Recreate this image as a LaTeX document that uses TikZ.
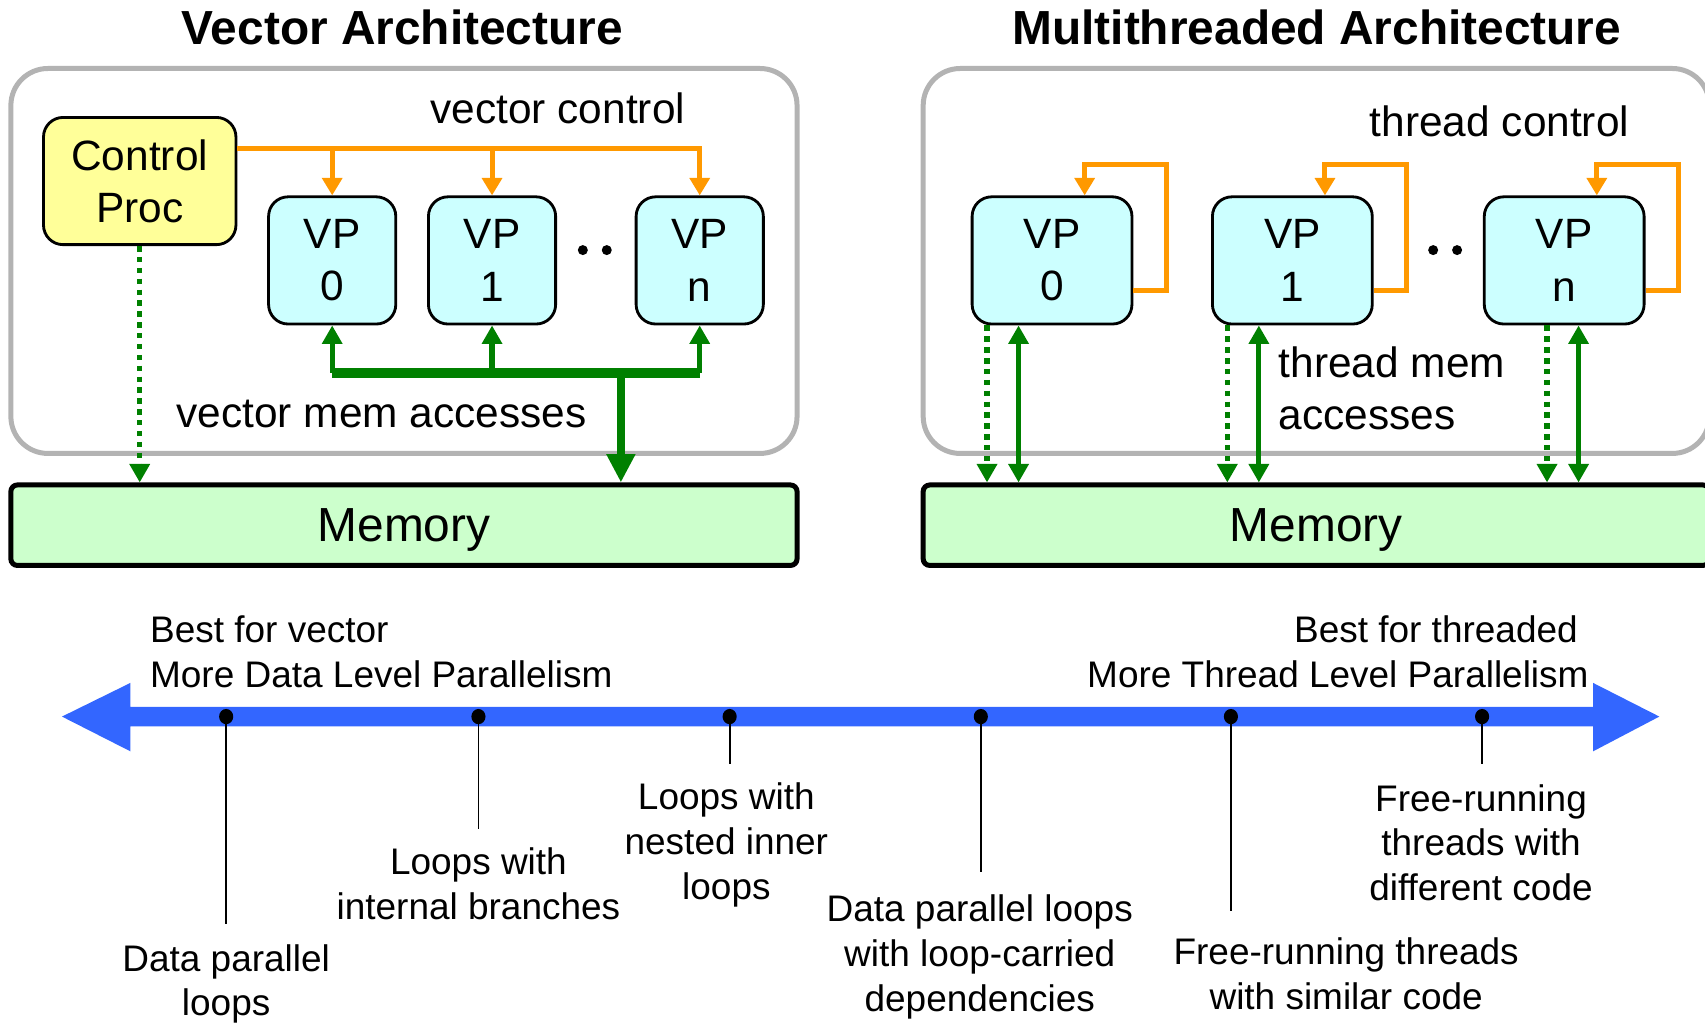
\documentclass[tikz,border=0pt]{standalone}
\usepackage{fontspec}
\setmainfont{Liberation Sans}
\usetikzlibrary{arrows.meta}
\definecolor{ctrlorange}{HTML}{FF9900}
\definecolor{memgreen}{HTML}{008000}
\definecolor{procyellow}{HTML}{FFFF99}
\definecolor{vpcyan}{HTML}{CCFFFF}
\definecolor{memfill}{HTML}{CCFFCC}
\definecolor{framegray}{HTML}{B3B3B3}
\definecolor{axisblue}{HTML}{3366FF}
\tikzset{
  boxfont/.style={font=\fontsize{19.5}{24}\selectfont},
  labelfont/.style={font=\fontsize{17}{20.5}\selectfont},
  titlefont/.style={font=\fontsize{22}{26}\selectfont\bfseries},
  groupbox/.style={draw=framegray, line width=2.3pt, rounded corners=17pt,
    minimum width=361.5pt, minimum height=177pt, inner sep=0pt},
  procbox/.style={draw=black, line width=1.3pt, fill=procyellow, rounded corners=9pt,
    minimum width=88.5pt, minimum height=58.5pt, inner sep=0pt, align=center, boxfont},
  vpbox/.style={draw=black, line width=1.3pt, fill=vpcyan, rounded corners=9pt,
    minimum width=58.5pt, minimum height=58.5pt, inner sep=0pt, align=center, boxfont},
  widevp/.style={vpbox, minimum width=73.5pt},
  membox/.style={draw=black, line width=2.3pt, fill=memfill, rounded corners=3pt,
    minimum width=361.5pt, minimum height=37pt, inner sep=0pt, text depth=0pt,
    font=\fontsize{22}{26}\selectfont},
  ctrlline/.style={draw=ctrlorange, line width=2.3pt,
    -{Triangle[width=9pt,length=8pt]}},
  ctrlloop/.style={ctrlline, line join=miter},
  memline/.style={draw=memgreen, line width=2.4pt,
    -{Triangle[width=9pt,length=8.5pt]}},
  memboth/.style={draw=memgreen, line width=2.4pt,
    {Triangle[width=9pt,length=8.5pt]}-{Triangle[width=9pt,length=8.5pt]}},
  memdot/.style={draw=memgreen, line width=2.5pt, dash pattern=on 2.5pt off 2.5pt,
    -{Triangle[width=9pt,length=8.5pt]}},
  membus/.style={draw=memgreen, line width=5pt},
  memtrunk/.style={draw=memgreen, line width=4pt,
    -{Triangle[width=12.5pt,length=13pt]}},
  tickdot/.style={ellipse, fill=black, inner sep=0pt, minimum width=6.5pt, minimum height=7pt},
  tickline/.style={draw=black, line width=0.8pt},
  dotmark/.style={circle, fill=black, inner sep=0pt, minimum size=4.6pt},
}
\usetikzlibrary{shapes.geometric}
\begin{document}
\begin{tikzpicture}[x=0.5pt,y=-0.5pt]
\useasboundingbox (0,0) rectangle (1568,940);

% ---------- titles ----------
\node[titlefont] (ttlV) at (370,25) {Vector Architecture};
\node[titlefont] (ttlM) at (1211,25) {Multithreaded Architecture};

% ---------- vector architecture ----------
\node[groupbox] (grpV) at (371.5,240) {};
\node[membox] (memV) at (371.5,483) {Memory};
\node[procbox] (cp) at (128.5,166.5) {Control\\Proc};
\node[vpbox] (vp0) at (305.5,239.5) {VP\\0};
\node[vpbox] (vp1) at (452.5,239.5) {VP\\1};
\node[vpbox] (vpn) at (643.5,239.5) {VP\\n};
\node[dotmark] (vdotA) at (536,230) {};
\node[dotmark] (vdotB) at (558,230) {};

\node[boxfont] (vctl) at (513,100) {vector control};
\node[boxfont] (vmem) at (351,381) {vector mem accesses};

% control bus
\coordinate (vbus) at (0,137);
\draw[ctrlline] (cp.east |- vbus) -| (vpn.north);
\draw[ctrlline] (vp0.north |- vbus) -- (vp0.north);
\draw[ctrlline] (vp1.north |- vbus) -- (vp1.north);

% memory bus
\coordinate (mbus) at (0,343);
\coordinate (tap) at (571,343);
\draw[membus] (vp0.south |- mbus) -- (vpn.south |- mbus);
\draw[memline] (vp0.south |- mbus) -- (vp0.south);
\draw[memline] (vp1.south |- mbus) -- (vp1.south);
\draw[memline] (vpn.south |- mbus) -- (vpn.south);
\draw[memtrunk] (tap) -- (tap |- memV.north);
\draw[memdot] (cp.south) -- (cp.south |- memV.north);

% ---------- multithreaded architecture ----------
\node[groupbox] (grpM) at (1210.5,240) {};
\node[membox] (memM) at (1210.5,483) {Memory};
\node[widevp] (rvp0) at (967.5,239.5) {VP\\0};
\node[widevp] (rvp1) at (1188.5,239.5) {VP\\1};
\node[widevp] (rvpn) at (1438.5,239.5) {VP\\n};
\node[dotmark] (mdotA) at (1318,230) {};
\node[dotmark] (mdotB) at (1340,230) {};

\node[boxfont] (tctl) at (1379,112) {thread control};
\node[boxfont, align=left, anchor=west] (tmem) at (1169,357.5) {thread mem\\accesses};

% per-thread control loops
\draw[ctrlloop] ([yshift=-14pt]rvp0.east) -- ++(30,0) -- ++(0,-116) -| ([xshift=15pt]rvp0.north);
\draw[ctrlloop] ([yshift=-14pt]rvp1.east) -- ++(30,0) -- ++(0,-116) -| ([xshift=15pt]rvp1.north);
\draw[ctrlloop] ([yshift=-14pt]rvpn.east) -- ++(30,0) -- ++(0,-116) -| ([xshift=15pt]rvpn.north);

% per-thread memory accesses
\draw[memdot]  ([xshift=7.5pt]rvp0.south west) -- ([xshift=7.5pt]rvp0.south west |- memM.north);
\draw[memboth] ([xshift=22pt]rvp0.south west) -- ([xshift=22pt]rvp0.south west |- memM.north);
\draw[memdot]  ([xshift=7.5pt]rvp1.south west) -- ([xshift=7.5pt]rvp1.south west |- memM.north);
\draw[memboth] ([xshift=22pt]rvp1.south west) -- ([xshift=22pt]rvp1.south west |- memM.north);
\draw[memdot]  ([xshift=29.5pt]rvpn.south west) -- ([xshift=29.5pt]rvpn.south west |- memM.north);
\draw[memboth] ([xshift=44pt]rvpn.south west) -- ([xshift=44pt]rvpn.south west |- memM.north);

% ---------- spectrum axis ----------
\fill[axisblue] (57,659) -- (120,628) -- (120,650) -- (1465,650) -- (1465,628)
  -- (1526,659) -- (1465,691) -- (1465,668) -- (120,668) -- (120,691) -- cycle;

\node[labelfont, align=left, anchor=west] (bestV) at (131,599.5)
  {Best for vector\\More Data Level Parallelism};
\node[labelfont, align=right, anchor=east] (bestT) at (1468,599.5)
  {Best for threaded\hspace*{5pt}\\More Thread Level Parallelism};

\node[tickdot] (t1) at (208,659) {};
\node[tickdot] (t2) at (440,659) {};
\node[tickdot] (t3) at (671,659) {};
\node[tickdot] (t4) at (902,659) {};
\node[tickdot] (t5) at (1132,659) {};
\node[tickdot] (t6) at (1363,659) {};

\draw[tickline] (t1.center) -- ++(0,191);
\draw[tickline] (t2.center) -- ++(0,103);
\draw[tickline] (t3.center) -- ++(0,44);
\draw[tickline] (t4.center) -- ++(0,143);
\draw[tickline] (t5.center) -- ++(0,179);
\draw[tickline] (t6.center) -- ++(0,44);

\node[labelfont, align=center] (l1) at (208,905) {Data parallel\\loops};
\node[labelfont, align=center] (l2) at (440,813) {Loops with\\internal branches};
\node[labelfont, align=center] (l3) at (668,777) {Loops with\\nested inner\\loops};
\node[labelfont, align=center] (l4) at (901,880) {Data parallel loops\\with loop-carried\\dependencies};
\node[labelfont, align=center] (l5) at (1238,895.5) {Free-running threads\\with similar code};
\node[labelfont, align=center] (l6) at (1362,775) {Free-running\\threads with\\different code};
\end{tikzpicture}
\end{document}
